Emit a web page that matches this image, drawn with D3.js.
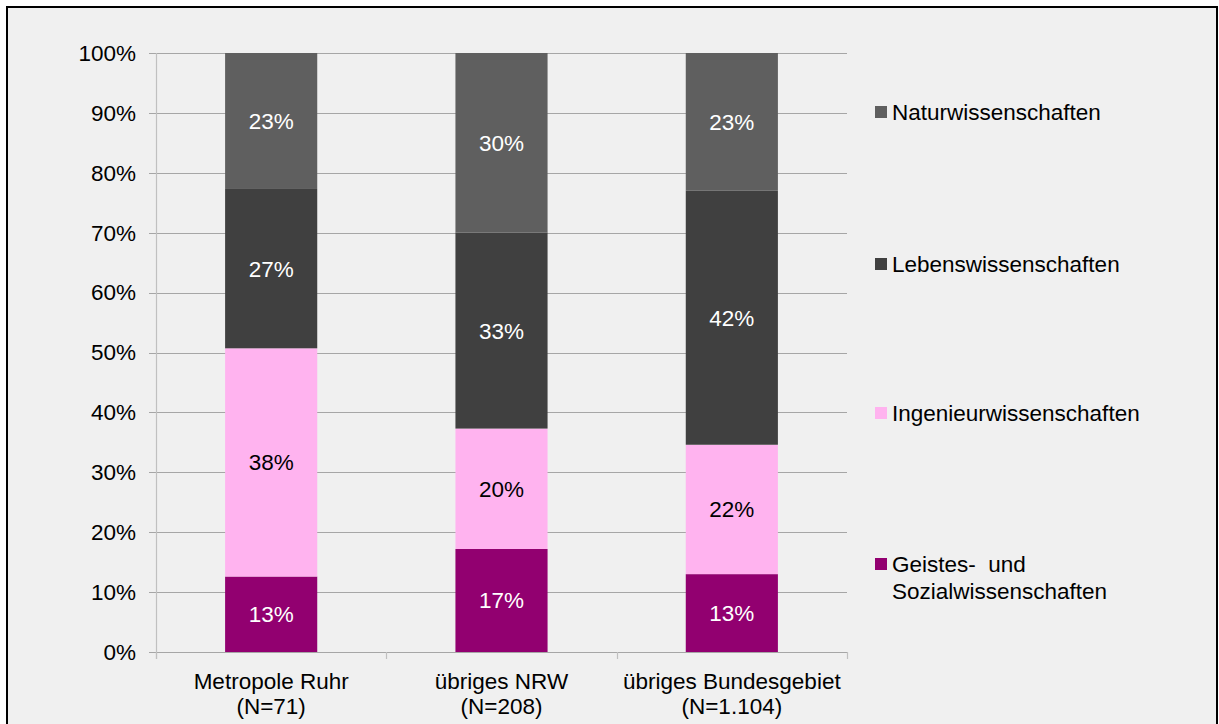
<!DOCTYPE html>
<html>
<head>
<meta charset="utf-8">
<script src="https://cdn.jsdelivr.net/npm/d3@7/dist/d3.min.js"></script>
<style>
  html, body { margin: 0; padding: 0; background: #ffffff; }
  svg { display: block; }
  text { font-family: "Liberation Sans", Arial, sans-serif; }
</style>
</head>
<body>
<svg id="chart" width="1219" height="724"></svg>
<script>
// Regions (two-line labels)
const categories = ["Metropole Ruhr", "übriges NRW", "übriges Bundesgebiet"];
const categorySizes = ["(N=71)", "(N=208)", "(N=1.104)"];

// Subject groups, stacked bottom to top
const seriesNames = ["Geistes- und Sozialwissenschaften", "Ingenieurwissenschaften", "Lebenswissenschaften", "Naturwissenschaften"];
const seriesColors = ["#920070", "#ffb3ef", "#404040", "#5f5f5f"];
const labelColors = ["#ffffff", "#000000", "#ffffff", "#ffffff"];

// Shares per region (fractions)
const geistes = [0.126, 0.172, 0.130];
const ingenieur = [0.381, 0.201, 0.216];
const leben = [0.266, 0.327, 0.424];
const natur = [0.227, 0.300, 0.230];

const yTicks = [0, 0.1, 0.2, 0.3, 0.4, 0.5, 0.6, 0.7, 0.8, 0.9, 1.0];

const FS = 22.5;

const seriesValues = [geistes, ingenieur, leben, natur];
const rows = categories.map((c, i) => {
  const r = { cat: c };
  seriesNames.forEach((s, k) => { r[s] = seriesValues[k][i]; });
  return r;
});

const svg = d3.select("#chart");

// chart background and frame
svg.append("rect").attr("x", 7).attr("y", 7).attr("width", 1210).attr("height", 730)
  .attr("fill", "#f0f0f0").attr("stroke", "#000").attr("stroke-width", 2);

const plot = { left: 156, right: 847, top: 53, bottom: 652 };

const x = d3.scaleBand().domain(categories)
  .range([plot.left, plot.right]).paddingInner(0.6).paddingOuter(0.3);
const y = d3.scaleLinear().domain([0, 1]).range([plot.bottom, plot.top]);

// gridlines
const g = svg.append("g");
g.selectAll("line.grid").data(yTicks).join("line")
  .attr("class", "grid")
  .attr("x1", plot.left - 7).attr("x2", plot.right)
  .attr("y1", d => Math.round(y(d)) + 0.5).attr("y2", d => Math.round(y(d)) + 0.5)
  .attr("stroke", "#a6a6a6").attr("stroke-width", 1);

// y axis labels
g.selectAll("text.ytick").data(yTicks).join("text")
  .attr("class", "ytick")
  .attr("x", 136).attr("y", d => y(d))
  .attr("dy", "0.35em")
  .attr("text-anchor", "end")
  .attr("font-size", FS)
  .attr("fill", "#000")
  .text(d => d3.format(".0%")(d));

// stacked bars
const stack = d3.stack().keys(seriesNames);
const layers = stack(rows);

const layerG = svg.append("g").selectAll("g").data(layers).join("g")
  .attr("fill", (d, i) => seriesColors[i]);

layerG.selectAll("rect").data(d => d).join("rect")
  .attr("x", d => x(d.data.cat))
  .attr("width", x.bandwidth())
  .attr("y", d => y(d[1]))
  .attr("height", d => y(d[0]) - y(d[1]));

// value labels
layers.forEach((layer, i) => {
  svg.append("g").selectAll("text").data(layer).join("text")
    .attr("x", d => x(d.data.cat) + x.bandwidth() / 2)
    .attr("y", d => (y(d[0]) + y(d[1])) / 2)
    .attr("dy", "0.35em")
    .attr("text-anchor", "middle")
    .attr("font-size", FS)
    .attr("fill", labelColors[i])
    .text(d => d3.format(".0%")(d[1] - d[0]));
});

// axes lines
svg.append("line")
  .attr("x1", plot.left + 0.5).attr("x2", plot.left + 0.5)
  .attr("y1", plot.top).attr("y2", plot.bottom + 7)
  .attr("stroke", "#c0c0c0").attr("stroke-width", 1.2);
svg.append("line")
  .attr("x1", plot.left).attr("x2", plot.right)
  .attr("y1", plot.bottom + 0.5).attr("y2", plot.bottom + 0.5)
  .attr("stroke", "#a6a6a6").attr("stroke-width", 1.2);

// category boundary ticks
const boundaries = [plot.left].concat(categories.map(c => x(c) + x.bandwidth() / 2 + x.step() / 2));
svg.selectAll("line.xtick").data(boundaries).join("line")
  .attr("class", "xtick")
  .attr("x1", d => Math.round(d) + 0.5).attr("x2", d => Math.round(d) + 0.5)
  .attr("y1", plot.bottom).attr("y2", plot.bottom + 7)
  .attr("stroke", "#c0c0c0").attr("stroke-width", 1.2);

// category labels
const xl = svg.append("g").selectAll("text").data(categories).join("text")
  .attr("x", d => x(d) + x.bandwidth() / 2)
  .attr("text-anchor", "middle")
  .attr("font-size", FS)
  .attr("fill", "#000");
xl.append("tspan").attr("x", d => x(d) + x.bandwidth() / 2).attr("y", 689).text(d => d);
xl.append("tspan").attr("x", d => x(d) + x.bandwidth() / 2).attr("y", 714)
  .text((d, i) => categorySizes[i]);

// legend, top to bottom
const legendItems = [
  { name: "Naturwissenschaften", lines: ["Naturwissenschaften"], color: seriesColors[3], y: 112 },
  { name: "Lebenswissenschaften", lines: ["Lebenswissenschaften"], color: seriesColors[2], y: 264 },
  { name: "Ingenieurwissenschaften", lines: ["Ingenieurwissenschaften"], color: seriesColors[1], y: 413 },
  { name: "Geistes- und Sozialwissenschaften", lines: ["Geistes-  und", "Sozialwissenschaften"], color: seriesColors[0], y: 564 }
];
const lg = svg.append("g").selectAll("g").data(legendItems).join("g");
lg.append("rect")
  .attr("x", 875).attr("y", d => d.y - 6)
  .attr("width", 12).attr("height", 12)
  .attr("fill", d => d.color);
lg.each(function(d) {
  const t = d3.select(this).append("text")
    .attr("font-size", FS).attr("fill", "#000")
    .attr("xml:space", "preserve");
  d.lines.forEach((ln, j) => {
    t.append("tspan").attr("x", 892).attr("y", d.y + j * 27).attr("dy", "0.35em").text(ln);
  });
});
</script>
</body>
</html>
